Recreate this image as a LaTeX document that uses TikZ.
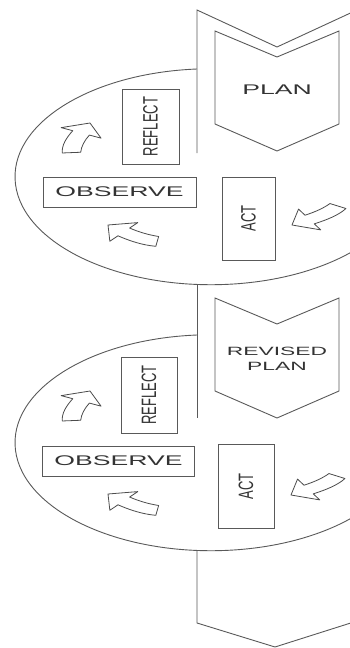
\documentclass[tikz,border=0pt]{standalone}
\usepackage{fontspec}
\setmainfont{Liberation Sans}
\usepackage{graphicx}

% stretched labels, as in the squeezed original
\newcommand{\widetext}[1]{\scalebox{1.9}[1]{#1}}
\newcommand{\uptext}[1]{\rotatebox{90}{\scalebox{1}[1.6]{#1}}}
% curved block arrow: tip position, direction
\newcommand{\cyclearrow}[2]{%
  \begin{scope}[shift={#1}, xscale=1.85, rotate=#2, x=1pt, y=1pt]
    \draw[blockarrow] (0,0) -- (-11,12) -- (-11,5) .. controls (-19,5) and (-27,4) .. (-33.5,0.3)
      -- (-28.5,-8.3) .. controls (-23,-6) and (-17,-5) .. (-11,-5) -- (-11,-12) -- cycle;
  \end{scope}}

\begin{document}
\begin{tikzpicture}[
        x=1pt, y=-1pt,
        outline/.style={draw=black!65, line width=0.9pt},
        stagebox/.style={rectangle, draw=black!65, line width=1pt, inner sep=0pt, text=black!80},
        blockarrow/.style={draw=black!70, line width=0.8pt, fill=white, line join=round},
        plantext/.style={text=black!80, align=center}
        ]
        \clip (0,0) rectangle (350,648);

        % the two loops
        \draw[outline] (197,69) arc[start angle=265.9, end angle=30, x radius=196, y radius=108];
        \draw[outline] (197,335) arc[start angle=265.9, end angle=30, x radius=196, y radius=108];

        % long strip
        \draw[outline] (357,10) -- (277,47) -- (197,10) -- (197,153);
        \draw[outline] (197,285) -- (197,418);
        \draw[outline] (197,551) -- (197,623) -- (275,647) -- (357,621);

        % plan chevrons
        \draw[outline] (215,31) -- (277,57) -- (339,31) -- (339,124) -- (277,151) -- (215,124) -- cycle;
        \draw[outline] (215,298) -- (277,324) -- (339,298) -- (339,391) -- (277,418) -- (215,391) -- cycle;
        \node[plantext, font=\fontsize{14pt}{16pt}\selectfont] (plan) at (277,90) {\widetext{PLAN}};
        \node[plantext, font=\fontsize{12pt}{15pt}\selectfont] (revplan) at (277,359) {\widetext{REVISED}\\\widetext{PLAN}};

        % first cycle
        \node[stagebox, minimum width=57pt, minimum height=75pt, font=\fontsize{13pt}{15pt}\selectfont] (reflect1) at (150.5,126.5) {\uptext{REFLECT}};
        \node[stagebox, minimum width=153pt, minimum height=30pt, font=\fontsize{14pt}{16pt}\selectfont] (observe1) at (119.5,192) {\widetext{OBSERVE}};
        \node[stagebox, minimum width=53pt, minimum height=83pt, font=\fontsize{13pt}{15pt}\selectfont] (act1) at (248.5,218.5) {\uptext{ACT}};
        \cyclearrow{(90,123)}{64}
        \cyclearrow{(108,225)}{141}
        \cyclearrow{(292,225)}{210}

        % second cycle
        \node[stagebox, minimum width=56pt, minimum height=76pt, font=\fontsize{13pt}{15pt}\selectfont] (reflect2) at (149,395) {\uptext{REFLECT}};
        \node[stagebox, minimum width=152pt, minimum height=30pt, font=\fontsize{14pt}{16pt}\selectfont] (observe2) at (118.5,461) {\widetext{OBSERVE}};
        \node[stagebox, minimum width=56pt, minimum height=84pt, font=\fontsize{13pt}{15pt}\selectfont] (act2) at (246,486.5) {\uptext{ACT}};
        \cyclearrow{(90,391)}{64}
        \cyclearrow{(108,494)}{141}
        \cyclearrow{(291,495)}{210}

    \end{tikzpicture}
\end{document}
